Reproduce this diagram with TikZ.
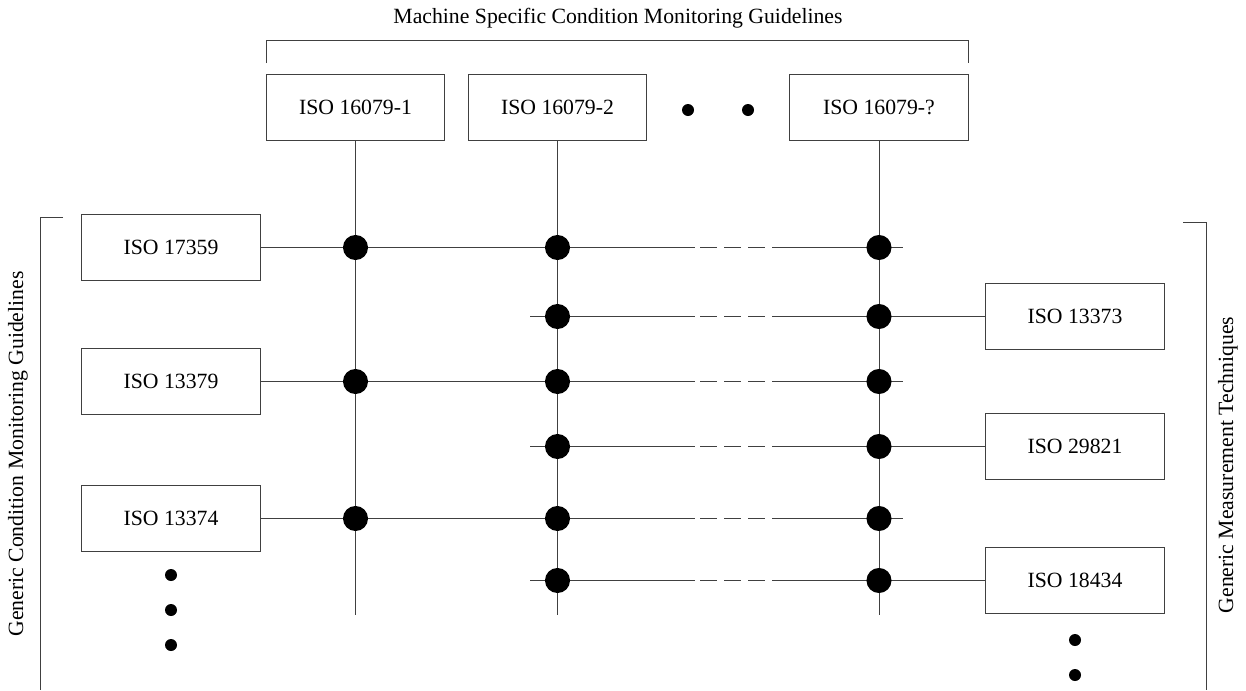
\documentclass[tikz,border=0pt]{standalone}
\usepackage{fontspec}
\setmainfont{Liberation Serif}

\begin{document}
\begin{tikzpicture}[x=0.75pt,y=-0.75pt,
  font=\fontsize{16.3}{19}\selectfont,
  link/.style={draw=black!75,line width=0.75pt},
  isobox/.style={link,minimum width=134pt,minimum height=49pt,inner sep=0pt},
  gapdash/.style={dash pattern=on 12.75pt off 5.25pt}]
\useasboundingbox (0,0) rectangle (1246,690);
\node (title) at (618,18) {Machine Specific Condition Monitoring Guidelines};
\draw[link] (266,63) -- (266,40) -- (968,40) -- (968,63);
\node[isobox] (t1) at (355.5,107.5) {ISO 16079-1};
\node[isobox] (t2) at (557.5,107.5) {ISO 16079-2};
\node[isobox] (t3) at (879,107.5) {ISO 16079-?};
\node[isobox] (g1) at (171,247.5) {ISO 17359};
\node[isobox] (g2) at (171,381.5) {ISO 13379};
\node[isobox] (g3) at (171,518.5) {ISO 13374};
\node[isobox] (m1) at (1075,316.5) {ISO 13373};
\node[isobox] (m2) at (1075,446.5) {ISO 29821};
\node[isobox] (m3) at (1075,580.5) {ISO 18434};
\coordinate (low) at (0,615);
\coordinate (cut) at (695,0);
\coordinate (dashL) at (700,0);
\coordinate (dashR) at (765,0);
\coordinate (rejoin) at (772,0);
\coordinate (lend) at (903,0);
\coordinate (rstart) at (530,0);
\foreach \t in {t1,t2,t3}
  \draw[link] (\t.south) -- (\t.south |- low);
\foreach \g in {g1,g2,g3}{
  \draw[link] (\g.east) -- (\g.east -| cut);
  \draw[link,gapdash] (\g.east -| dashL) -- (\g.east -| dashR);
  \draw[link] (\g.east -| rejoin) -- (\g.east -| lend);
  \foreach \t in {t1,t2,t3}
    \fill (\g.east -| \t.south) circle (9.4pt);
}
\foreach \m in {m1,m2,m3}{
  \draw[link] (\m.west -| rstart) -- (\m.west -| cut);
  \draw[link,gapdash] (\m.west -| dashL) -- (\m.west -| dashR);
  \draw[link] (\m.west -| rejoin) -- (\m.west);
  \foreach \t in {t2,t3}
    \fill (\m.west -| \t.south) circle (9.4pt);
}
\foreach \x in {688,748}
  \fill (\x,110) circle (4.5pt);
\foreach \y in {575,610,645}
  \fill (171,\y) circle (4.5pt);
\foreach \y in {640,675}
  \fill (1075,\y) circle (4.5pt);
\draw[link] (63,217) -- (40,217) -- (40,690);
\draw[link] (1183,222) -- (1206,222) -- (1206,690);
\node[rotate=90] (gcm) at (18,454) {Generic Condition Monitoring Guidelines};
\node[rotate=90] (gmt) at (1228,465) {Generic Measurement Techniques};
\end{tikzpicture}
\end{document}
